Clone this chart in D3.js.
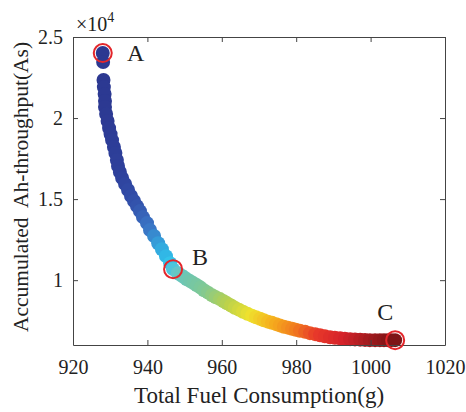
<!DOCTYPE html>
<html>
<head>
<meta charset="utf-8">
<script src="https://cdn.jsdelivr.net/npm/d3@7/dist/d3.min.js"></script>
<style>
  body { margin: 0; background: #fff; }
  text { font-family: "Liberation Serif", "Times New Roman", serif; fill: #222; }
</style>
</head>
<body>
<svg id="chart" width="466" height="412"></svg>
<script>
// Pareto front: total fuel consumption (g) vs accumulated Ah-throughput (As)
var fuel = [
  928.0, 928.1, 928.2, 928.3, 928.5, 928.6, 928.6, 928.9, 929.3, 929.7,
  930.1, 930.5, 931.0, 931.4, 931.8, 932.1, 932.6, 933.2, 934.0, 934.8,
  935.6, 936.4, 937.2, 938.0, 938.8, 939.9, 940.7, 941.8, 942.9, 943.9,
  945.0, 946.1, 946.9, 948.2, 949.0, 949.8, 950.6, 951.5, 952.4, 953.3,
  954.3, 955.2, 956.3, 957.4, 958.4, 959.5, 960.5, 961.4, 962.5, 963.5,
  964.6, 965.7, 966.9, 968.1, 969.2, 970.3, 971.3, 972.4, 973.5, 974.6,
  975.6, 976.7, 977.8, 978.9, 979.9, 981.0, 982.4, 983.7, 985.1, 986.4,
  987.7, 989.1, 990.4, 991.8, 993.1, 994.5, 995.8, 997.2, 998.5, 999.8,
  1001.2, 1002.5, 1003.6, 1004.7, 1005.5, 1006.6
];
var ahThroughput = [
  24010, 23460, 22350, 21910, 21480, 21050, 20680, 20250, 19815, 19380,
  19010, 18640, 18210, 17840, 17410, 17040, 16670, 16300, 15930, 15560,
  15190, 14880, 14570, 14260, 13890, 13520, 13090, 12720, 12280, 11910,
  11480, 11050, 10680, 10430, 10310, 10190, 10060, 9940, 9815, 9690,
  9540, 9380, 9230, 9070, 8950, 8830, 8700, 8580, 8440, 8300,
  8180, 8055, 7930, 7810, 7715, 7620, 7530, 7440, 7365, 7285,
  7210, 7130, 7070, 7005, 6945, 6880, 6810, 6730, 6670, 6600,
  6540, 6480, 6450, 6420, 6390, 6360, 6345, 6330, 6315, 6300,
  6300, 6300, 6300, 6300, 6300, 6300
];
// highlighted solutions
var markedLabels = ["A", "B", "C"];
var markedIndex = [0, 32, 85];

var xTicks = [920, 940, 960, 980, 1000, 1020];
var yTicks = [10000, 15000, 20000, 25000];
var yTickLabels = ["1", "1.5", "2", "2.5"];

var svg = d3.select("#chart");
var plotLeft = 73, plotRight = 445, plotTop = 37, plotBottom = 345;

var x = d3.scaleLinear().domain([920, 1020]).range([plotLeft, plotRight]);
var y = d3.scaleLinear().domain([6000, 25000]).range([plotBottom, plotTop]);

// jet-like colouring along the front
var color = d3.scaleLinear()
  .domain([928, 933, 937, 940.5, 943.5, 946, 947.5, 951, 956, 962, 968, 974, 980, 986, 993, 1000, 1007])
  .range(["#2c3891", "#2e419c", "#3351ab", "#3a74c4", "#34a6dd", "#2fc3ec", "#62c6d0",
          "#6ec6b0", "#82c992", "#b9d14e", "#eee22e", "#f6b11e", "#f17f1f", "#e8392a",
          "#d6232a", "#a41b1f", "#7b1415"])
  .interpolate(d3.interpolateRgb);

svg.append("rect").attr("width", 466).attr("height", 412).attr("fill", "#fff");

// points
svg.append("g").selectAll("circle")
  .data(d3.range(fuel.length))
  .join("circle")
  .attr("cx", function(i) { return x(fuel[i]); })
  .attr("cy", function(i) { return y(ahThroughput[i]); })
  .attr("r", 7)
  .attr("fill", function(i) { return color(fuel[i]); });

// axes, ticks pointing inward on all four sides
function styleAxis(g) {
  g.selectAll("path, line").attr("stroke", "#444").attr("stroke-width", 1);
  g.selectAll("text").attr("fill", "#222").attr("font-family", "Liberation Serif").attr("font-size", 20);
}

svg.append("g")
  .attr("transform", "translate(0," + plotBottom + ")")
  .call(d3.axisBottom(x).tickValues(xTicks).tickSize(-5).tickSizeOuter(0).tickPadding(15)
    .tickFormat(d3.format("d")))
  .call(styleAxis);

svg.append("g")
  .attr("transform", "translate(0," + plotTop + ")")
  .call(d3.axisTop(x).tickValues(xTicks).tickSize(-5).tickSizeOuter(0).tickFormat(""))
  .call(styleAxis);

svg.append("g")
  .attr("transform", "translate(" + plotLeft + ",0)")
  .call(d3.axisLeft(y).tickValues(yTicks).tickSize(-5).tickSizeOuter(0).tickPadding(10)
    .tickFormat(function(d, i) { return yTickLabels[i]; }))
  .call(styleAxis);

svg.append("g")
  .attr("transform", "translate(" + plotRight + ",0)")
  .call(d3.axisRight(y).tickValues(yTicks).tickSize(-5).tickSizeOuter(0).tickFormat(""))
  .call(styleAxis);

svg.selectAll(".domain").attr("fill", "none");

// exponent
var expo = svg.append("text").attr("x", 76).attr("y", 31).attr("font-size", 20);
expo.append("tspan").text("\u00d710");
expo.append("tspan").attr("font-size", 14).attr("dy", -9).text("4");

// axis titles
svg.append("text")
  .attr("x", (plotLeft + plotRight) / 2).attr("y", 403)
  .attr("text-anchor", "middle").attr("font-size", 23)
  .text("Total Fuel Consumption(g)");

svg.append("text")
  .attr("transform", "translate(28," + 187 + ") rotate(-90)")
  .attr("text-anchor", "middle").attr("font-size", 21.5)
  .style("white-space", "pre")
  .text("Accumulated  Ah-throughput(As)");

// highlighted solutions
var labelOffset = [[33, 8], [27, -4], [-10, -20]];
markedIndex.forEach(function(idx, k) {
  var cx = x(fuel[idx]), cy = y(ahThroughput[idx]);
  svg.append("circle")
    .attr("cx", cx).attr("cy", cy).attr("r", 9)
    .attr("fill", "none").attr("stroke", "#e3262b").attr("stroke-width", 2);
  svg.append("text")
    .attr("x", cx + labelOffset[k][0]).attr("y", cy + labelOffset[k][1])
    .attr("text-anchor", "middle").attr("font-size", 24)
    .text(markedLabels[k]);
});
</script>
</body>
</html>
